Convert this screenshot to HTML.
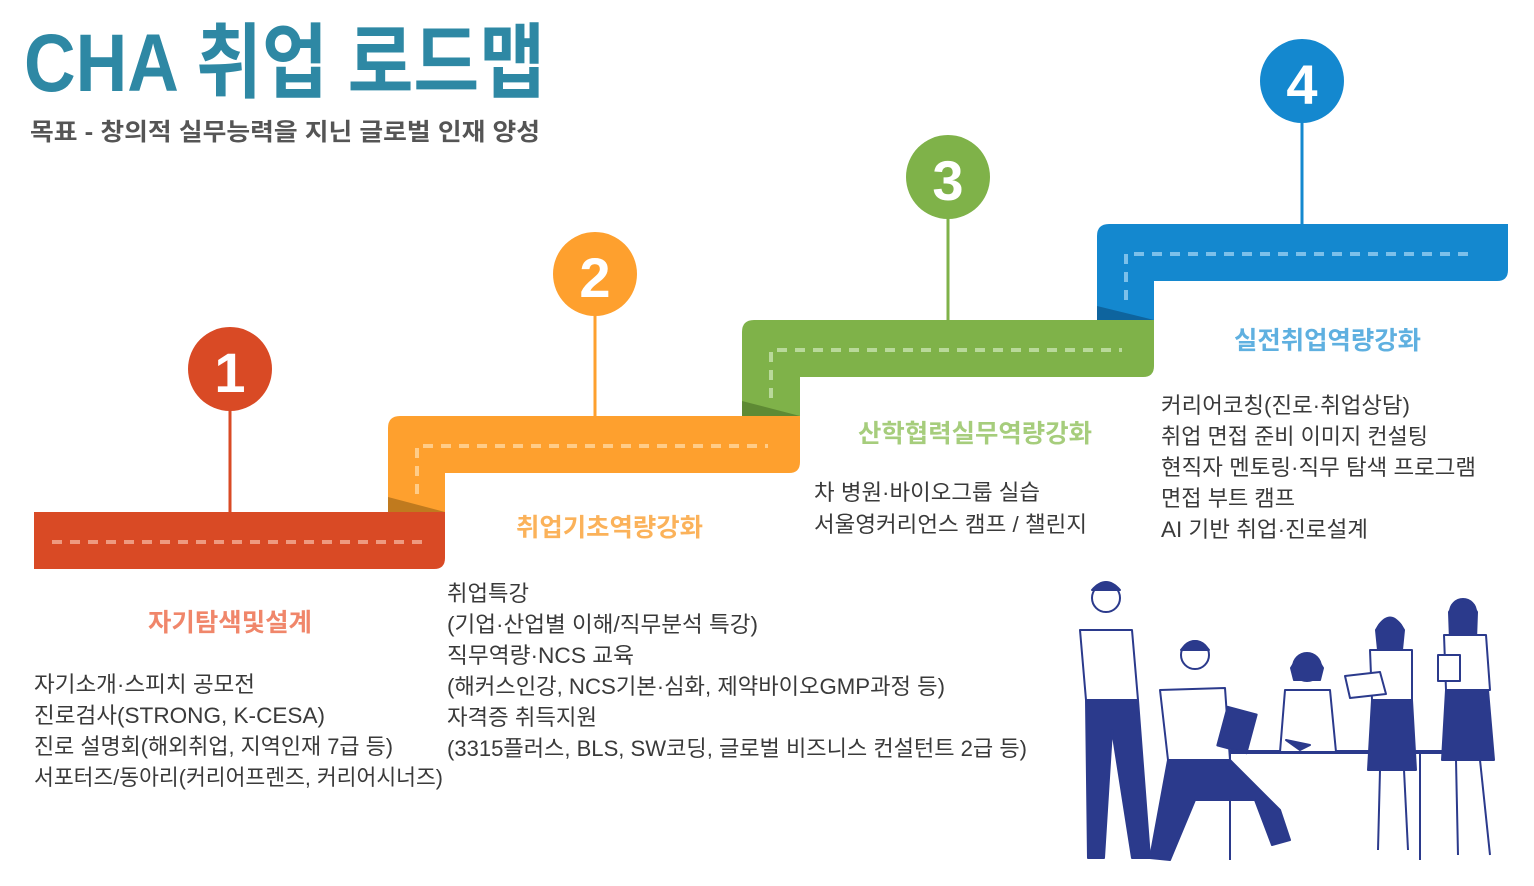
<!DOCTYPE html>
<html><head><meta charset="utf-8"><style>
html,body{margin:0;padding:0;background:#fff;width:1534px;height:886px;overflow:hidden}
svg{display:block}
text{font-family:"Liberation Sans","Noto Sans CJK KR",sans-serif}
</style></head><body>
<svg width="1534" height="886" viewBox="0 0 1534 886" xmlns="http://www.w3.org/2000/svg">
<text x="24" y="91" font-size="82" font-weight="bold" fill="#2e88a4" textLength="521" lengthAdjust="spacingAndGlyphs">CHA 취업 로드맵</text>
<text x="30" y="140" font-size="24" font-weight="bold" fill="#555" textLength="510" lengthAdjust="spacingAndGlyphs">목표 - 창의적 실무능력을 지닌 글로벌 인재 양성</text>

<path d="M1097 320 V236 Q1097 224 1109 224 H1508 V270 Q1508 281 1497 281 H1154 V320 Z" fill="#1488cf"/>
<polygon points="1097,306 1154,320 1097,320" fill="#0e649e"/>
<path d="M1126 300 V254 H1475" fill="none" stroke="#7cc0ea" stroke-width="4" stroke-dasharray="10,8"/>
<path d="M742 416 V332 Q742 320 754 320 H1154 V366 Q1154 377 1143 377 H800 V416 Z" fill="#7fb249"/>
<polygon points="742,401 800,416 742,416" fill="#5e8a34"/>
<path d="M771 398 V350 H1122" fill="none" stroke="#b9d99a" stroke-width="4" stroke-dasharray="10,8"/>
<path d="M388 512 V428 Q388 416 400 416 H800 V462 Q800 473 789 473 H445 V512 Z" fill="#fea02e"/>
<polygon points="388,497 445,512 388,512" fill="#c07a1e"/>
<path d="M417 494 V446 H768" fill="none" stroke="#ffcc88" stroke-width="4" stroke-dasharray="10,8"/>
<path d="M34 512 H445 V558 Q445 569 434 569 H34 Z" fill="#d94a25"/>
<path d="M52 542 H430" fill="none" stroke="#ee9a80" stroke-width="4" stroke-dasharray="10,8"/>

<line x1="230" y1="410" x2="230" y2="512" stroke="#d94a25" stroke-width="3"/>
<circle cx="230" cy="369" r="42" fill="#d94a25"/>
<text x="230" y="392" font-size="56" font-weight="bold" fill="#fff" text-anchor="middle">1</text>
<line x1="595" y1="314" x2="595" y2="416" stroke="#fea02e" stroke-width="3"/>
<circle cx="595" cy="274" r="42" fill="#fea02e"/>
<text x="595" y="297" font-size="56" font-weight="bold" fill="#fff" text-anchor="middle">2</text>
<line x1="948" y1="217" x2="948" y2="320" stroke="#7fb249" stroke-width="3"/>
<circle cx="948" cy="177" r="42" fill="#7fb249"/>
<text x="948" y="200" font-size="56" font-weight="bold" fill="#fff" text-anchor="middle">3</text>
<line x1="1302" y1="121" x2="1302" y2="224" stroke="#1488cf" stroke-width="3"/>
<circle cx="1302" cy="81" r="42" fill="#1488cf"/>
<text x="1302" y="104" font-size="56" font-weight="bold" fill="#fff" text-anchor="middle">4</text>

<text x="148" y="631" font-size="25" font-weight="bold" fill="#f0866a" textLength="164" lengthAdjust="spacingAndGlyphs">자기탐색및설계</text>
<text x="516" y="536" font-size="25" font-weight="bold" fill="#fbb25a" textLength="187" lengthAdjust="spacingAndGlyphs">취업기초역량강화</text>
<text x="858" y="442" font-size="25" font-weight="bold" fill="#a6cd7c" textLength="234" lengthAdjust="spacingAndGlyphs">산학협력실무역량강화</text>
<text x="1234" y="349" font-size="25" font-weight="bold" fill="#5fb0e0" textLength="187" lengthAdjust="spacingAndGlyphs">실전취업역량강화</text>

<g font-size="22" fill="#3a3a3a">
<text x="34" y="692" textLength="221" lengthAdjust="spacingAndGlyphs">자기소개·스피치 공모전</text>
<text x="34" y="723" textLength="291" lengthAdjust="spacingAndGlyphs">진로검사(STRONG, K-CESA)</text>
<text x="34" y="754" textLength="359" lengthAdjust="spacingAndGlyphs">진로 설명회(해외취업, 지역인재 7급 등)</text>
<text x="34" y="785" textLength="409" lengthAdjust="spacingAndGlyphs">서포터즈/동아리(커리어프렌즈, 커리어시너즈)</text>

<text x="447" y="601" textLength="82" lengthAdjust="spacingAndGlyphs">취업특강</text>
<text x="447" y="632" textLength="311" lengthAdjust="spacingAndGlyphs">(기업·산업별 이해/직무분석 특강)</text>
<text x="447" y="663" textLength="187" lengthAdjust="spacingAndGlyphs">직무역량·NCS 교육</text>
<text x="447" y="694" textLength="498" lengthAdjust="spacingAndGlyphs">(해커스인강, NCS기본·심화, 제약바이오GMP과정 등)</text>
<text x="447" y="725" textLength="150" lengthAdjust="spacingAndGlyphs">자격증 취득지원</text>
<text x="447" y="756" textLength="580" lengthAdjust="spacingAndGlyphs">(3315플러스, BLS, SW코딩, 글로벌 비즈니스 컨설턴트 2급 등)</text>

<text x="814" y="500" textLength="226" lengthAdjust="spacingAndGlyphs">차 병원·바이오그룹 실습</text>
<text x="814" y="532" textLength="273" lengthAdjust="spacingAndGlyphs">서울영커리언스 캠프 / 챌린지</text>

<text x="1161" y="413" textLength="249" lengthAdjust="spacingAndGlyphs">커리어코칭(진로·취업상담)</text>
<text x="1161" y="444" textLength="267" lengthAdjust="spacingAndGlyphs">취업 면접 준비 이미지 컨설팅</text>
<text x="1161" y="475" textLength="315" lengthAdjust="spacingAndGlyphs">현직자 멘토링·직무 탐색 프로그램</text>
<text x="1161" y="506" textLength="134" lengthAdjust="spacingAndGlyphs">면접 부트 캠프</text>
<text x="1161" y="537" textLength="207" lengthAdjust="spacingAndGlyphs">AI 기반 취업·진로설계</text>
</g>

<g stroke="#2b3a8c" stroke-width="2" stroke-linejoin="round">
 <line x1="1190" y1="752" x2="1460" y2="752" stroke-width="4"/>
 <line x1="1230" y1="752" x2="1230" y2="860"/>
 <line x1="1420" y1="752" x2="1420" y2="860"/>
 <circle cx="1106" cy="598" r="14" fill="#fff"/>
 <path d="M1092 590 Q1106 574 1120 590 Z" fill="#2b3a8c"/>
 <path d="M1080 630 L1132 630 L1138 700 L1086 700 Z" fill="#fff"/>
 <path d="M1086 700 L1138 700 L1150 858 L1132 858 L1112 730 L1104 858 L1088 858 Z" fill="#2b3a8c"/>
 <circle cx="1195" cy="655" r="14" fill="#fff"/>
 <path d="M1181 650 Q1195 632 1209 650 Z" fill="#2b3a8c"/>
 <path d="M1160 690 L1225 688 L1230 760 L1168 760 Z" fill="#fff"/>
 <path d="M1168 760 L1230 760 L1280 810 L1290 840 L1272 845 L1255 800 L1195 800 L1170 860 L1150 858 Z" fill="#2b3a8c"/>
 <rect x="1222" y="710" width="30" height="40" fill="#2b3a8c" transform="rotate(15 1237 730)"/>
 <circle cx="1307" cy="667" r="14" fill="#fff"/>
 <path d="M1291 668 Q1307 640 1323 668 L1320 680 L1294 680 Z" fill="#2b3a8c"/>
 <path d="M1285 690 L1330 690 L1336 752 L1280 752 Z" fill="#fff"/>
 <path d="M1286 740 L1310 745 L1300 750 Z" fill="#2b3a8c"/>
 <circle cx="1390" cy="632" r="13" fill="#fff"/>
 <path d="M1376 630 Q1390 605 1404 630 L1402 650 L1378 650 Z" fill="#2b3a8c"/>
 <path d="M1370 650 L1412 650 L1412 700 L1372 700 Z" fill="#fff"/>
 <path d="M1372 700 L1412 700 L1416 770 L1368 770 Z" fill="#2b3a8c"/>
 <line x1="1380" y1="770" x2="1378" y2="850"/>
 <line x1="1404" y1="770" x2="1408" y2="850"/>
 <path d="M1345 676 L1380 672 L1386 694 L1350 698 Z" fill="#fff"/>
 <circle cx="1463" cy="612" r="13" fill="#fff"/>
 <path d="M1449 612 Q1463 588 1477 612 L1476 640 L1450 640 Z" fill="#2b3a8c"/>
 <path d="M1444 635 L1486 635 L1490 690 L1446 690 Z" fill="#fff"/>
 <path d="M1446 690 L1488 690 L1494 760 L1442 760 Z" fill="#2b3a8c"/>
 <line x1="1456" y1="760" x2="1458" y2="855"/>
 <line x1="1480" y1="760" x2="1490" y2="855"/>
 <rect x="1438" y="655" width="22" height="26" fill="#fff"/>
</g>
</svg>
</body></html>
